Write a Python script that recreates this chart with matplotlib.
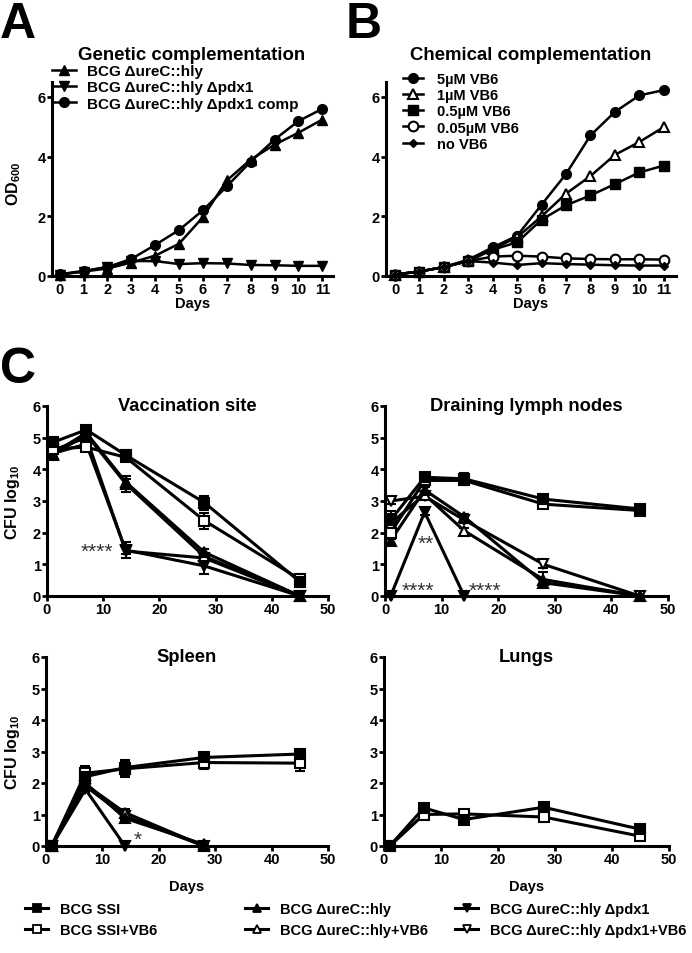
import numpy as np
import matplotlib
matplotlib.use("Agg")
import matplotlib.pyplot as plt
from matplotlib.lines import Line2D

plt.rcParams['font.family'] = ['Liberation Sans', 'DejaVu Sans']
plt.rcParams['font.weight'] = 'bold'
plt.rcParams['mathtext.fontset'] = 'custom'
plt.rcParams['mathtext.rm'] = 'Liberation Sans:bold'
plt.rcParams['mathtext.bf'] = 'Liberation Sans:bold'

# ---- panel A: genetic complementation (OD600 per day)
days_ab = list(range(12))
gen_labels = ["BCG \u0394ureC::hly", "BCG \u0394ureC::hly \u0394pdx1", "BCG \u0394ureC::hly \u0394pdx1 comp"]
gen_hly = [0.05, 0.15, 0.25, 0.45, 0.68, 1.08, 1.97, 3.2, 3.9, 4.4, 4.8, 5.24]
gen_pdx1 = [0.05, 0.15, 0.3, 0.5, 0.5, 0.4, 0.43, 0.42, 0.37, 0.36, 0.34, 0.34]
gen_comp = [0.06, 0.17, 0.3, 0.57, 1.04, 1.54, 2.2, 3.0, 3.83, 4.57, 5.19, 5.6]

# ---- panel B: chemical complementation
chem_labels = ["5\u00b5M VB6", "1\u00b5M VB6", "0.5\u00b5M VB6", "0.05\u00b5M VB6", "no VB6"]
chem_5 = [0.05, 0.15, 0.3, 0.55, 0.96, 1.35, 2.39, 3.42, 4.71, 5.5, 6.05, 6.23]
chem_1 = [0.05, 0.15, 0.3, 0.52, 0.9, 1.3, 2.0, 2.76, 3.35, 4.06, 4.49, 4.99]
chem_05 = [0.05, 0.15, 0.3, 0.5, 0.88, 1.13, 1.89, 2.37, 2.7, 3.08, 3.47, 3.7]
chem_005 = [0.05, 0.15, 0.3, 0.5, 0.65, 0.68, 0.65, 0.59, 0.57, 0.56, 0.56, 0.55]
chem_none = [0.05, 0.15, 0.3, 0.5, 0.45, 0.37, 0.43, 0.4, 0.38, 0.36, 0.35, 0.35]

# ---- panel C: CFU log10 in organs
days_c = [1, 7, 14, 28, 45]
group_labels = ["BCG SSI", "BCG SSI+VB6", "BCG \u0394ureC::hly", "BCG \u0394ureC::hly+VB6",
                "BCG \u0394ureC::hly \u0394pdx1", "BCG \u0394ureC::hly \u0394pdx1+VB6"]
nan = np.nan

vac_means = [[4.85, 5.25, 4.45, 2.95, 0.45],
             [4.65, 4.7, 4.38, 2.38, 0.53],
             [4.5, 5.15, 3.6, 1.38, 0.0],
             [4.45, 5.1, 3.55, 1.25, 0.0],
             [4.5, 4.8, 1.45, 0.95, 0.0],
             [4.6, 5.0, 1.42, 1.2, 0.0]]
vac_errs = [[0.1, 0.1, 0.15, 0.22, 0.15],
            [0.1, 0.1, 0.1, 0.25, 0.15],
            [0.15, 0.1, 0.1, 0.1, 0.0],
            [0.1, 0.1, 0.25, 0.1, 0.0],
            [0.1, 0.1, 0.25, 0.25, 0.0],
            [0.1, 0.1, 0.1, 0.1, 0.0]]

dln_means = [[2.4, 3.75, 3.7, 3.06, 2.75],
             [2.0, 3.65, 3.65, 2.9, 2.7],
             [1.75, 3.35, 2.5, 0.42, 0.0],
             [2.3, 3.2, 2.06, 0.52, 0.0],
             [0.0, 2.65, 0.0, nan, nan],
             [3.0, 3.15, 2.4, 1.0, 0.0]]
dln_errs = [[0.3, 0.1, 0.2, 0.1, 0.1],
            [0.2, 0.1, 0.1, 0.1, 0.1],
            [0.15, 0.1, 0.1, 0.1, 0.0],
            [0.3, 0.1, 0.1, 0.25, 0.0],
            [0.0, 0.1, 0.0, nan, nan],
            [0.1, 0.1, 0.1, 0.1, 0.0]]

spl_means = [[0.0, 2.2, 2.49, 2.81, 2.92],
             [0.0, 2.31, 2.45, 2.65, 2.63],
             [0.0, 2.0, 0.88, 0.05, nan],
             [0.0, 1.95, 1.06, 0.0, nan],
             [0.0, 1.8, 0.0, nan, nan],
             [0.0, 1.9, 0.95, 0.0, nan]]
spl_errs = [[0.0, 0.2, 0.25, 0.1, 0.1],
            [0.0, 0.22, 0.25, 0.2, 0.25],
            [0.0, 0.1, 0.1, 0.0, nan],
            [0.0, 0.1, 0.1, 0.0, nan],
            [0.0, 0.1, 0.0, nan, nan],
            [0.0, 0.1, 0.1, 0.0, nan]]

lung_means = [[0.0, 1.21, 0.84, 1.23, 0.53],
              [0.0, 1.0, 1.02, 0.92, 0.31]]
lung_errs = [[0.0, 0.05, 0.05, 0.05, 0.05],
             [0.0, 0.05, 0.05, 0.05, 0.05]]

markers_c = ['s', 's', '^', '^', 'v', 'v']
filled_c = [True, False, True, False, True, False]

fig = plt.figure(figsize=(6.92, 9.54), dpi=100)
W, H = 692.0, 954.0


def add_ax(left, top, right, bottom):
    return fig.add_axes([left / W, 1 - bottom / H, (right - left) / W, (bottom - top) / H])


def prism(ax):
    for s in ['top', 'right']:
        ax.spines[s].set_visible(False)
    for s in ['left', 'bottom']:
        ax.spines[s].set_linewidth(2.2)
    ax.tick_params(direction='out', length=3.5, width=2, labelsize=10.5, pad=1)
    for lab in ax.get_xticklabels() + ax.get_yticklabels():
        lab.set_fontweight('bold')


# ---- panel A
axA = add_ax(52, 83, 333, 277)
axA.plot(days_ab, gen_hly, '-^', color='black', lw=1.8, ms=7, clip_on=False, label=gen_labels[0])
axA.plot(days_ab, gen_pdx1, '-v', color='black', lw=1.8, ms=7, clip_on=False, label=gen_labels[1])
axA.plot(days_ab, gen_comp, '-o', color='black', lw=1.8, ms=7, clip_on=False, label=gen_labels[2])
axA.set_xlim(-0.32, 11.45)
axA.set_ylim(0, 6.5)
axA.set_xticks(days_ab)
axA.set_yticks([0, 2, 4, 6])
prism(axA)
axA.set_xlabel("Days", fontsize=10.5, fontweight='bold', labelpad=0)
axA.set_ylabel("OD$_{600}$", fontsize=11.5, fontweight='bold')
axA.yaxis.set_label_coords(-29 / 281, 0.48)
fig.text(192 / W, 1 - 56 / H, "Genetic complementation", ha='center', va='center', fontsize=13.4, fontweight='bold')
axA.legend(loc='upper left', bbox_to_anchor=(52 / W, 1 - 65 / H), bbox_transform=fig.transFigure,
           frameon=False, fontsize=11, handlelength=1.6, handletextpad=0.7, labelspacing=0.15,
           borderpad=0, borderaxespad=0)
fig.text(0 / W, 1 - 25 / H, "A", ha='left', va='center', fontsize=36, fontweight='bold')

# ---- panel B
axB = add_ax(386, 83, 676, 277)
axB.plot(days_ab, chem_5, '-o', color='black', lw=1.8, ms=7, clip_on=False, label=chem_labels[0])
axB.plot(days_ab, chem_1, '-^', color='black', mfc='white', mew=1.5, lw=1.8, ms=7, clip_on=False, label=chem_labels[1])
axB.plot(days_ab, chem_05, '-s', color='black', lw=1.8, ms=7, clip_on=False, label=chem_labels[2])
axB.plot(days_ab, chem_005, '-o', color='black', mfc='white', mew=1.5, lw=1.8, ms=7, clip_on=False, label=chem_labels[3])
axB.plot(days_ab, chem_none, '-D', color='black', lw=1.8, ms=4, clip_on=False, label=chem_labels[4])
axB.set_xlim(-0.37, 11.5)
axB.set_ylim(0, 6.5)
axB.set_xticks(days_ab)
axB.set_yticks([0, 2, 4, 6])
prism(axB)
axB.set_xlabel("Days", fontsize=10.5, fontweight='bold', labelpad=0)
fig.text(531 / W, 1 - 56 / H, "Chemical complementation", ha='center', va='center', fontsize=13.4, fontweight='bold')
axB.legend(loc='upper left', bbox_to_anchor=(403 / W, 1 - 73 / H), bbox_transform=fig.transFigure,
           frameon=False, fontsize=10.5, handlelength=1.4, handletextpad=0.95, labelspacing=0.15,
           borderpad=0, borderaxespad=0)
fig.text(346 / W, 1 - 25 / H, "B", ha='left', va='center', fontsize=36, fontweight='bold')

fig.text(0 / W, 1 - 370 / H, "C", ha='left', va='center', fontsize=36, fontweight='bold')


def organ(ax, means, errs, title, groups):
    for k in reversed(range(len(groups))):
        i = groups[k]
        mfc = 'black' if filled_c[i] else 'white'
        ax.errorbar(days_c, means[k], yerr=errs[k], fmt='-' + markers_c[i],
                    color='black', mfc=mfc, mec='black', mew=1.5, lw=2.2, ms=7,
                    capsize=3.5, elinewidth=1.5, capthick=1.5, clip_on=False)
    ax.set_xlim(0, 50)
    ax.set_ylim(0, 6)
    ax.set_xticks([0, 10, 20, 30, 40, 50])
    ax.set_yticks(range(7))
    prism(ax)
    ax.text(0.5, 1.0, title, transform=ax.transAxes, ha='center', va='center', fontsize=13.2, fontweight='bold')


def stars(ax, x, y, s):
    ax.text(x, y, s, ha='center', va='center', fontsize=15, fontweight='normal', color='#333333')


all_groups = [0, 1, 2, 3, 4, 5]

axV = add_ax(47, 407, 328, 597)
organ(axV, vac_means, vac_errs, "Vaccination site", all_groups)
axV.set_ylabel("CFU log$_{10}$", fontsize=11.5, fontweight='bold')
axV.yaxis.set_label_coords(-25 / 281, 0.5)
stars(axV, 8.9, 1.4, "****")

axD = add_ax(385, 407, 668, 597)
organ(axD, dln_means, dln_errs, "Draining lymph nodes", all_groups)
stars(axD, 7.2, 1.65, "**")
stars(axD, 5.8, 0.17, "****")
stars(axD, 17.6, 0.17, "****")

axS = add_ax(46, 658, 328, 847)
organ(axS, spl_means, spl_errs, "Spleen", all_groups)
axS.set_ylabel("CFU log$_{10}$", fontsize=11.5, fontweight='bold')
axS.yaxis.set_label_coords(-24 / 282, 0.5)
axS.set_xlabel("Days", fontsize=10.5, fontweight='bold', labelpad=9)
stars(axS, 16.3, 0.2, "*")

axL = add_ax(384, 658, 669, 847)
organ(axL, lung_means, lung_errs, "Lungs", [0, 1])
axL.set_xlabel("Days", fontsize=10.5, fontweight='bold', labelpad=9)

# shared legend for panel C, three columns of two
handles = []
for i in range(6):
    mfc = 'black' if filled_c[i] else 'white'
    handles.append(Line2D([0], [0], color='black', lw=2.2, marker=markers_c[i], mfc=mfc, mec='black',
                          mew=1.3, ms=5.5))
col_x = [25, 245, 455]
for c in range(3):
    fig.legend(handles[2 * c:2 * c + 2], group_labels[2 * c:2 * c + 2], loc='upper left',
               bbox_to_anchor=(col_x[c] / W, 1 - 903 / H), frameon=False, fontsize=10.5,
               handlelength=1.6, handletextpad=0.8, labelspacing=0.5, borderpad=0, borderaxespad=0)

fig.savefig("out.png", dpi=100)
